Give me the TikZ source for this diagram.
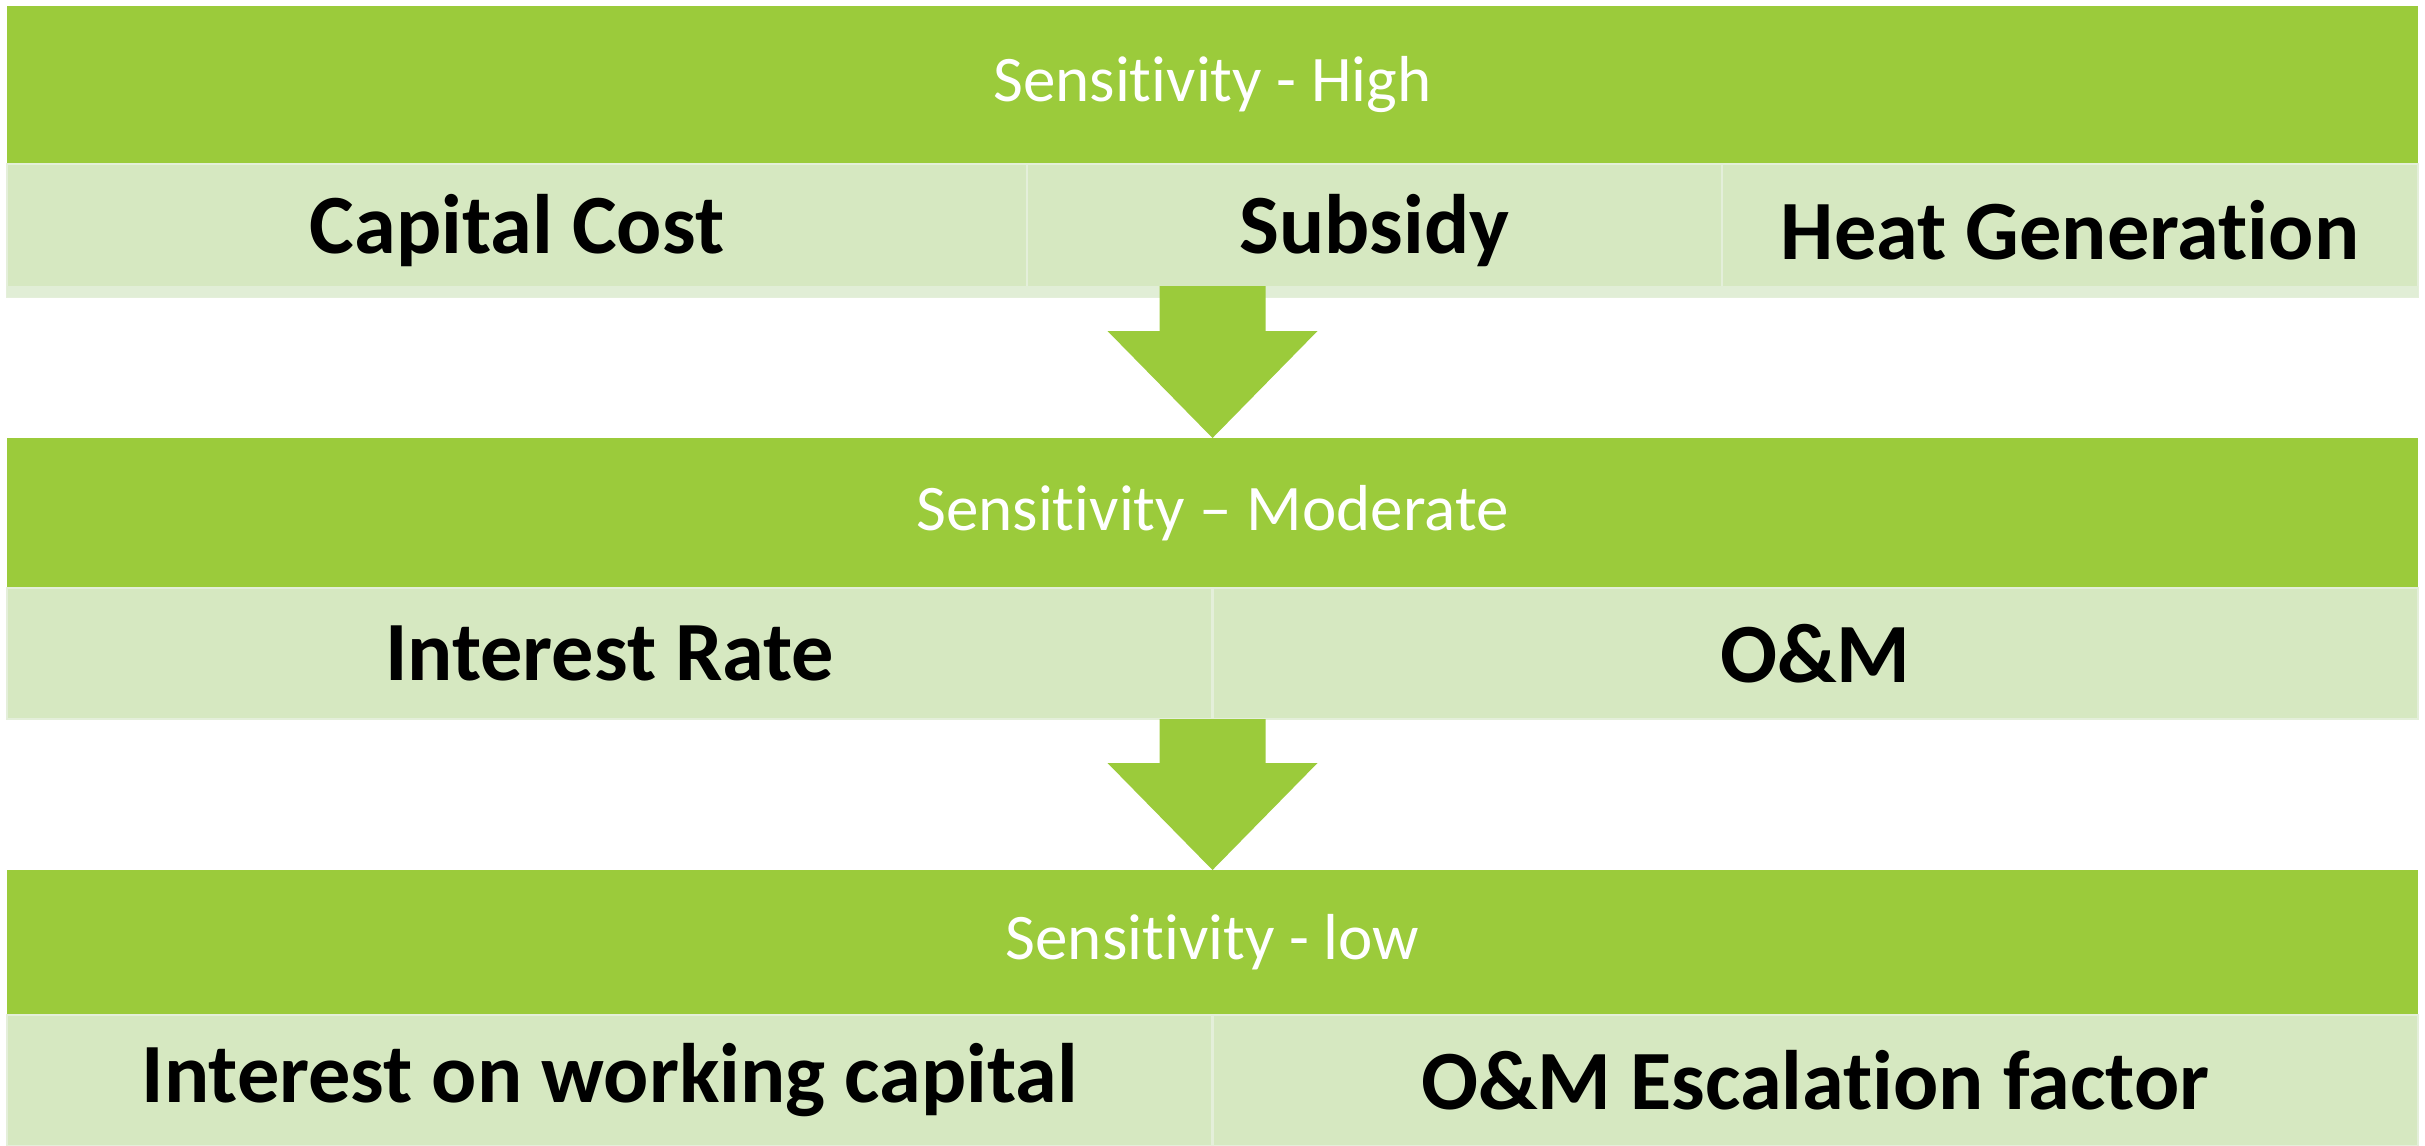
\documentclass[tikz,border=0pt]{standalone}
\usepackage{fontspec}
\setmainfont{Carlito}[Ligatures=NoCommon]
\usepackage{xcolor}
\usetikzlibrary{positioning,calc}

\definecolor{barGreen}{HTML}{9BCB3B}
\definecolor{cellGreen}{HTML}{D6E8C1}
\definecolor{cellEdge}{HTML}{E4EFDA}
\definecolor{stripGreen}{HTML}{E1EED6}

\begin{document}
\begin{tikzpicture}[
  header/.style={fill=barGreen, text=white, inner sep=0pt, outer sep=0pt,
    minimum width=24.11cm, anchor=north west, font=\fontsize{18.5}{22}\selectfont},
  cell/.style={fill=cellGreen, draw=cellEdge, line width=0.6pt, inner sep=0pt,
    outer sep=0pt, font=\fontsize{24}{28}\selectfont\bfseries}
]

  \useasboundingbox (0,0) rectangle (24.25,-11.45);

  % ----------------------
  % Livello alto
  % ----------------------
  \node[header, minimum height=1.58cm] (h1) at (0.07,-0.06) {Sensitivity - High};
  \node[cell, anchor=north west, minimum width=10.20cm, minimum height=1.33cm] (c11) at (h1.south west) {Capital Cost};
  \node[cell, right=0pt of c11, minimum width=6.95cm, minimum height=1.33cm] (c12) {Subsidy};
  \node[cell, right=0pt of c12, minimum width=6.96cm, minimum height=1.33cm] (c13) {Heat Generation};
  \fill[stripGreen] ($(c11.south west)+(0,0.11)$) rectangle (c13.south east);

  % ----------------------
  % Livello medio
  % ----------------------
  \node[header, minimum height=1.50cm] (h2) at (0.07,-4.38) {Sensitivity – Moderate};
  \node[cell, anchor=north west, minimum width=12.055cm, minimum height=1.31cm] (c21) at (h2.south west) {Interest Rate};
  \node[cell, right=0pt of c21, minimum width=12.055cm, minimum height=1.31cm] (c22) {O\&M};

  % ----------------------
  % Livello basso
  % ----------------------
  \node[header, minimum height=1.45cm] (h3) at (0.07,-8.70) {Sensitivity - low};
  \node[cell, anchor=north west, minimum width=12.055cm, minimum height=1.31cm] (c31) at (h3.south west) {Interest on working capital};
  \node[cell, right=0pt of c31, minimum width=12.055cm, minimum height=1.31cm] (c32) {O\&M Escalation factor};

  % ----------------------
  % Frecce tra i livelli (lo stelo parte un po' dentro la riga sopra)
  % ----------------------
  \foreach \h/\r/\n/\up in {h1/c11/h2/0.11, h2/c21/h3/0}{
    \fill[barGreen] ($(\h.center |- \r.south)+(-0.53,\up)$) -- ($(\h.center |- \r.south)+(0.53,\up)$)
      -- ($(\n.north)+(0.53,1.07)$) -- ($(\n.north)+(1.05,1.07)$) -- (\n.north)
      -- ($(\n.north)+(-1.05,1.07)$) -- ($(\n.north)+(-0.53,1.07)$) -- cycle;
  }

\end{tikzpicture}
\end{document}
